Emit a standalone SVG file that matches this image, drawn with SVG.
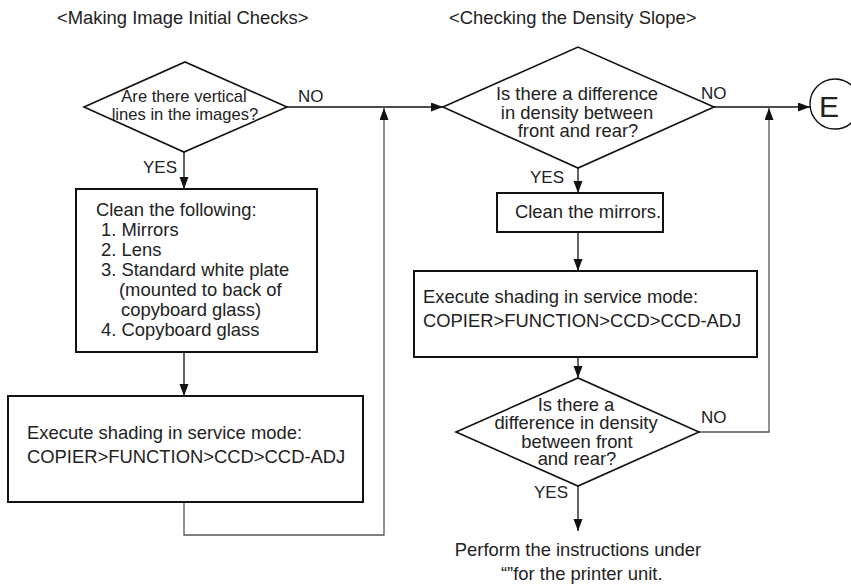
<svg xmlns="http://www.w3.org/2000/svg" width="851" height="586" viewBox="0 0 851 586">
<style>
text{font-family:"Liberation Sans",Arial,sans-serif;fill:#222;}
.t{font-size:18.4px;}
.d1{font-size:16.6px;}
.lab{font-size:17px;}
.box{fill:#fff;stroke:#111;stroke-width:2;}
.dia{fill:#fff;stroke:#111;stroke-width:1.6;}
.c{fill:none;stroke:#111;stroke-width:1.3;}
.g{fill:none;stroke:#555;stroke-width:1.3;}
.m{text-anchor:middle;}
</style>
<defs>
<marker id="ah" markerUnits="userSpaceOnUse" markerWidth="12" markerHeight="10" refX="12" refY="4.5" orient="auto">
<path d="M0,0 L12,4.5 L0,9 z" fill="#111"/>
</marker>
</defs>
<g id="titles">
<text class="t" x="57" y="24">&lt;Making Image Initial Checks&gt;</text>
<text class="t" x="449" y="24">&lt;Checking the Density Slope&gt;</text>
</g>
<g id="connectors">
<line class="c" x1="184" y1="152" x2="184" y2="189" marker-end="url(#ah)"/>
<line class="c" x1="287" y1="107" x2="443" y2="107" marker-end="url(#ah)"/>
<line class="c" x1="184" y1="352" x2="184" y2="396" marker-end="url(#ah)"/>
<polyline class="g" points="184,502 184,535 384,535 384,108" marker-end="url(#ah)"/>
<line class="c" x1="578" y1="168" x2="578" y2="193" marker-end="url(#ah)"/>
<line class="c" x1="714" y1="107" x2="810" y2="107" marker-end="url(#ah)"/>
<line class="c" x1="578" y1="232" x2="578" y2="271" marker-end="url(#ah)"/>
<line class="c" x1="578" y1="357" x2="578" y2="378" marker-end="url(#ah)"/>
<polyline class="g" points="699,432 769,432 769,108" marker-end="url(#ah)"/>
<line class="c" x1="578" y1="486" x2="578" y2="531" marker-end="url(#ah)"/>
<text class="lab" x="298" y="102">NO</text>
<text class="lab" x="143" y="173">YES</text>
<text class="lab" x="701" y="99">NO</text>
<text class="lab" x="530" y="183">YES</text>
<text class="lab" x="701" y="423">NO</text>
<text class="lab" x="534" y="498">YES</text>
</g>
<g id="d1">
<polygon class="dia" points="84,107 185,62 287,107 184,152"/>
<text class="d1 m" x="184" y="102">Are there vertical</text>
<text class="d1 m" x="185" y="120">lines in the images?</text>
</g>
<g id="b1">
<rect class="box" x="76" y="189" width="241" height="163"/>
<text class="t" x="96" y="216">Clean the following:</text>
<text class="t" x="101" y="236">1. Mirrors</text>
<text class="t" x="101" y="256">2. Lens</text>
<text class="t" x="101" y="276">3. Standard white plate</text>
<text class="t" x="119" y="296">(mounted to back of</text>
<text class="t" x="121" y="316">copyboard glass)</text>
<text class="t" x="101" y="336">4. Copyboard glass</text>
</g>
<g id="b2">
<rect class="box" x="8" y="396" width="355" height="106"/>
<text class="t" x="27" y="439">Execute shading in service mode:</text>
<text class="t" x="27" y="463">COPIER&gt;FUNCTION&gt;CCD&gt;CCD-ADJ</text>
</g>
<g id="d2">
<polygon class="dia" points="443,107 578,47 714,107 578,168"/>
<text class="t m" x="577" y="100">Is there a difference</text>
<text class="t m" x="577" y="119">in density between</text>
<text class="t m" x="578" y="137">front and rear?</text>
</g>
<g id="e">
<circle cx="835" cy="104" r="25" fill="#fff" stroke="#111" stroke-width="1.4"/>
<text x="829" y="117" class="m" style="font-size:30px">E</text>
</g>
<g id="b3">
<rect class="box" x="497" y="193" width="166" height="39"/>
<text class="t" x="515" y="218">Clean the mirrors.</text>
</g>
<g id="b4">
<rect class="box" x="414" y="271" width="343" height="86"/>
<text class="t" x="423" y="303">Execute shading in service mode:</text>
<text class="t" x="423" y="327">COPIER&gt;FUNCTION&gt;CCD&gt;CCD-ADJ</text>
</g>
<g id="d3">
<polygon class="dia" points="456,432 578,378 699,432 578,486"/>
<text class="t m" x="576" y="411">Is there a</text>
<text class="t m" x="576" y="429">difference in density</text>
<text class="t m" x="577" y="448">between front</text>
<text class="t m" x="577" y="465">and rear?</text>
</g>
<g id="end">
<text class="t m" x="578" y="556">Perform the instructions under</text>
<text class="t" x="501" y="580">“”for the printer unit.</text>
</g>
</svg>
